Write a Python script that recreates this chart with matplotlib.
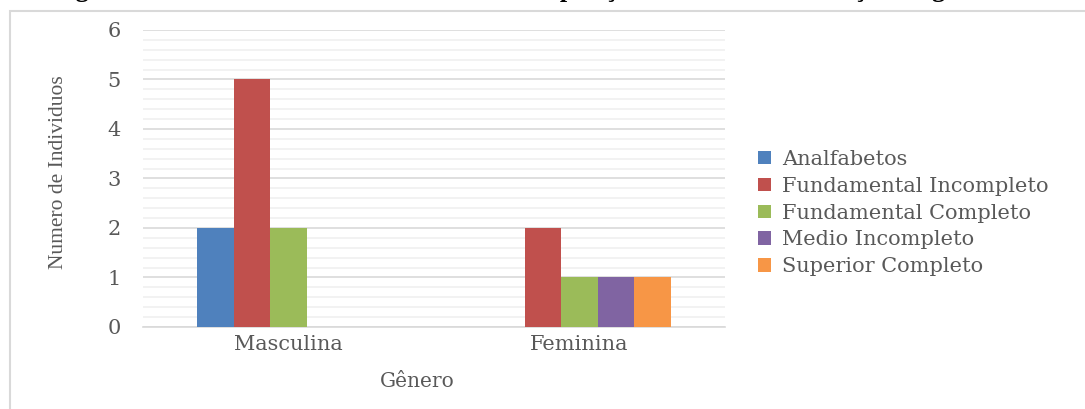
import matplotlib.pyplot as plt
import matplotlib.patches as mpatches
from matplotlib.ticker import MultipleLocator

# data
categorias = ["Masculina", "Feminina"]
series = ["Analfabetos", "Fundamental Incompleto", "Fundamental Completo",
          "Medio Incompleto", "Superior Completo"]
analfabetos = [2, 0]
fund_incompleto = [5, 2]
fund_completo = [2, 1]
medio_incompleto = [0, 1]
superior_completo = [0, 1]
valores = [analfabetos, fund_incompleto, fund_completo,
           medio_incompleto, superior_completo]
cores = ["#4f81bd", "#c0504d", "#9bbb59", "#8064a2", "#f79646"]

titulo = "Figura 5 – Escolaridade dos indivíduos e sua posição na família em relação ao gênero"

fonte = ["DejaVu Serif"]
cinza = "#595959"

fig = plt.figure(figsize=(10.85, 4.09), dpi=100)
ax = fig.add_axes([0.1318, 0.2005, 0.5364, 0.7262])

# outer chart frame (only top and left edges fall inside the picture)
fig.patches.append(mpatches.Rectangle((10 / 1085, -0.2), 1.2, 0.2 + 1 - 11 / 409,
                                      transform=fig.transFigure, fill=False,
                                      edgecolor="#d9d9d9", linewidth=1.5))

# title is cut off by the crop, only descenders show
fig.text(0.048, 1.0 + 3.5 / 409, titulo, fontsize=19, fontweight="bold",
         family=["Liberation Serif"], va="baseline", ha="left", color="black")

n = len(series)
largura = 0.63 / n
for i, (nome, vals, cor) in enumerate(zip(series, valores, cores)):
    xs = [k - 0.315 + largura * (i + 0.5) for k in range(len(categorias))]
    ax.bar(xs, vals, width=largura, color=cor, label=nome, linewidth=0, zorder=3)

ax.set_xlim(-0.5, 1.5)
ax.set_ylim(0, 6)
ax.yaxis.set_major_locator(MultipleLocator(1))
ax.yaxis.set_minor_locator(MultipleLocator(0.2))
ax.grid(axis="y", which="major", color="#d9d9d9", linewidth=1.2, zorder=0)
ax.grid(axis="y", which="minor", color="#f0f0f0", linewidth=1.2, zorder=0)
ax.set_xticks(range(len(categorias)))
ax.set_xticklabels(categorias)
for s in ["top", "right", "left"]:
    ax.spines[s].set_visible(False)
ax.spines["bottom"].set_color("#d9d9d9")
ax.spines["bottom"].set_linewidth(1.2)
ax.tick_params(axis="both", which="both", length=0, colors=cinza, labelsize=15)
ax.tick_params(axis="y", pad=16)
ax.tick_params(axis="x", pad=6)
for lab in ax.get_xticklabels() + ax.get_yticklabels():
    lab.set_family(fonte)

ax.set_xlabel("Gênero", family=fonte, fontsize=14.5, color=cinza)
ax.xaxis.set_label_coords(0.471, -0.15)
ax.set_ylabel("Numero de Individuos", family=["Liberation Serif"], fontsize=15.5,
              color=cinza)
ax.yaxis.set_label_coords(-0.129, 0.52)

fig.legend(loc="center left", bbox_to_anchor=(750 / 1085, 1 - 213 / 409),
           frameon=False, prop={"family": fonte, "size": 15},
           labelcolor=cinza, handlelength=0.6, handleheight=0.6,
           handletextpad=0.55, labelspacing=0.38, borderaxespad=0)

fig.savefig("out.png", dpi=100)
